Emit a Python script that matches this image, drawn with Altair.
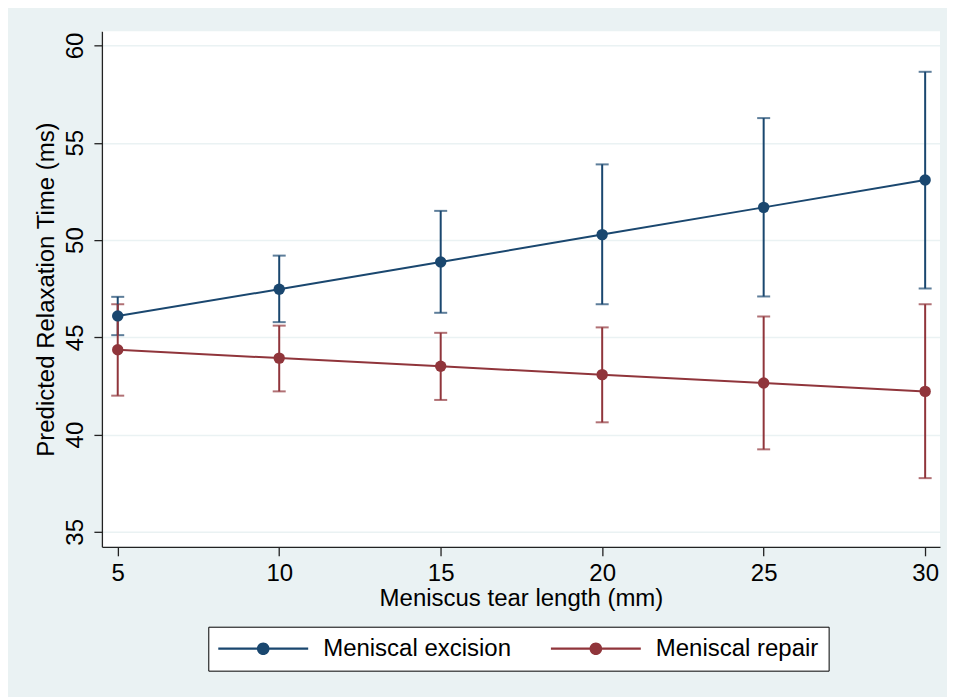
import altair as alt
import pandas as pd

# ---- data ----
tear_length = [5, 10, 15, 20, 25, 30]
excision_pred = [46.10, 47.47, 48.87, 50.28, 51.68, 53.09]
excision_lo = [45.11, 45.78, 46.26, 46.70, 47.10, 47.51]
excision_hi = [47.08, 49.20, 51.50, 53.89, 56.27, 58.65]
repair_pred = [44.36, 43.93, 43.51, 43.08, 42.65, 42.22]
repair_lo = [42.00, 42.22, 41.78, 40.63, 39.24, 37.76]
repair_hi = [46.70, 45.60, 45.23, 45.51, 46.07, 46.70]
series = ["Meniscal excision", "Meniscal repair"]
colors = ["#1a476f", "#90353b"]
y_ticks = [35, 40, 45, 50, 55, 60]
x_ticks = [5, 10, 15, 20, 25, 30]

rows = []
for name, pred, lo, hi in [
    (series[0], excision_pred, excision_lo, excision_hi),
    (series[1], repair_pred, repair_lo, repair_hi),
]:
    for xv, p, l, h in zip(tear_length, pred, lo, hi):
        rows.append({"length": xv, "group": name, "pred": p, "lo": l, "hi": h})
df = pd.DataFrame(rows)

FONT = "Liberation Sans"
BG = "#EAF2F3"

xscale = alt.Scale(domain=[4.51, 30.46], nice=False, zero=False)
yscale = alt.Scale(domain=[34.23, 60.73], nice=False, zero=False)
cscale = alt.Scale(domain=series, range=colors)

x_axis = alt.Axis(values=x_ticks, title="Meniscus tear length (mm)", grid=False,
                  labelFontSize=24, titleFontSize=24, tickSize=9, labelPadding=6,
                  titlePadding=1, labelFlush=False)
y_axis = alt.Axis(values=y_ticks, title="Predicted Relaxation Time (ms)", grid=True,
                  labelFontSize=24, titleFontSize=24, tickSize=8, labelPadding=6,
                  labelAngle=270, labelAlign="center", labelBaseline="bottom",
                  titlePadding=5, labelFlush=False)

X = alt.X("length:Q", scale=xscale, axis=x_axis)

# legend symbol: symbol box is 24 px (unit = 12 px, centre 12 px from entry left);
# the path draws a 90 px, 2 px-thick bar with a filled disc at its middle
u = 12.0
def ux(px):
    return (px - 12.0) / u
hh = 1.1 / u
r = 6.3 / u
cx = ux(45)
sym_path = (f"M{ux(0):.4f},{-hh:.4f}L{ux(90):.4f},{-hh:.4f}"
            f"L{ux(90):.4f},{hh:.4f}L{ux(0):.4f},{hh:.4f}Z"
            f"M{cx - r:.4f},0A{r:.4f},{r:.4f},0,1,1,{cx + r:.4f},0"
            f"A{r:.4f},{r:.4f},0,1,1,{cx - r:.4f},0Z")

leg = alt.Legend(title="", orient="none", legendX=106.5, legendY=596,
                 direction="horizontal", columns=2,
                 symbolType=sym_path, symbolSize=576, symbolOpacity=1,
                 symbolStrokeWidth=0, labelLimit=0,
                 labelFontSize=24, labelFont=FONT, labelColor="black",
                 labelOffset=81, columnPadding=39,
                 fillColor="white", strokeColor="black", padding=10)
C = alt.Color("group:N", scale=cscale, legend=leg)

base = alt.Chart(df)

bars = base.mark_errorbar(ticks=True, size=13, thickness=2).encode(
    x=X,
    y=alt.Y("lo:Q", scale=yscale, axis=y_axis),
    y2="hi:Q",
    color=C,
)

lines = base.mark_line(strokeWidth=2).encode(
    x=X,
    y=alt.Y("pred:Q", scale=yscale, axis=y_axis),
    color=C,
)

points = base.mark_point(filled=True, size=130, opacity=1).encode(
    x=X,
    y=alt.Y("pred:Q", scale=yscale, axis=y_axis),
    color=C,
)

chart = alt.layer(bars, lines, points).properties(
    width=839, height=516,
    autosize=alt.AutoSizeParams(type="none"),
    padding={"left": 94, "top": 23, "right": 7, "bottom": 150},
    background=BG,
).configure_view(
    fill="white", strokeWidth=0
).configure_axis(
    labelFont=FONT, titleFont=FONT, labelColor="black", titleColor="black",
    titleFontWeight="normal", domainColor="#222222", tickColor="#222222",
    domainWidth=1.3, tickWidth=1.3, gridColor=BG, gridWidth=1.5,
)

chart.save("out.html", embed_options={"renderer": "svg", "actions": False})
